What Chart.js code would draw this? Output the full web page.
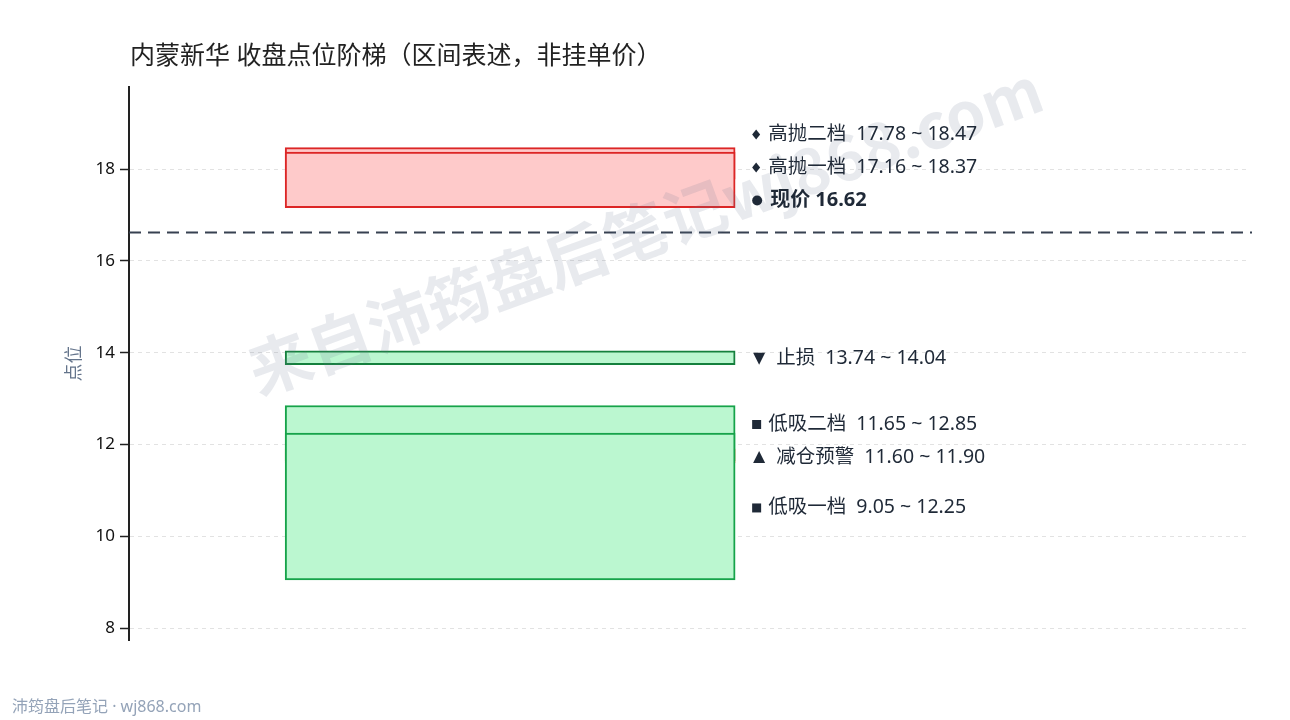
<!DOCTYPE html>
<html>
<head>
<meta charset="utf-8">
<script src="https://cdn.jsdelivr.net/npm/chart.js@4.4.0/dist/chart.umd.min.js"></script>
<style>
html, body { margin: 0; padding: 0; background: #fff; }
#wrap { width: 1290px; height: 720px; }
</style>
</head>
<body>
<div id="wrap"><canvas id="ladder" width="1290" height="720"></canvas></div>
<script>
// zones, top label first
var zoneNames = ['高抛二档', '高抛一档', '止损', '低吸二档', '减仓预警', '低吸一档'];
var zoneLow = [17.78, 17.16, 13.74, 11.65, 11.60, 9.05];
var zoneHigh = [18.47, 18.37, 14.04, 12.85, 11.90, 12.25];
var zoneKind = ['high', 'high', 'stop', 'low', 'warn', 'low'];
var currentPrice = 16.62;
var yTicks = [8, 10, 12, 14, 16, 18];
var yMin = 7.74, yMax = 19.79;
var zoneX = 0.34;

var FONT = '"Noto Sans", "Noto Sans CJK SC", sans-serif';
var CJK = '"Noto Sans CJK SC", "Noto Sans", sans-serif';
var fills = { high: '#fecaca', stop: '#bbf7d0', low: '#bbf7d0', warn: '#fed7aa' };
var edges = { high: '#dc2626', stop: '#15803d', low: '#16a34a', warn: '#ea580c' };
var ink = '#1f2937';

var datasets = zoneNames.map(function (name, i) {
    return {
        label: name,
        data: [{ x: zoneX, y: [zoneLow[i], zoneHigh[i]] }],
        backgroundColor: fills[zoneKind[i]],
        borderColor: edges[zoneKind[i]],
        borderWidth: 2,
        borderSkipped: false,
        barThickness: 450,
        order: -i
    };
});

const drawMarker = (ctx, kind, x, y) => {
    ctx.fillStyle = ink;
    ctx.beginPath();
    if (kind === 'high') {
        ctx.moveTo(x + 4, y - 5); ctx.lineTo(x + 8, y); ctx.lineTo(x + 4, y + 5); ctx.lineTo(x, y);
        ctx.closePath(); ctx.fill();
        return 16;
    }
    if (kind === 'price') {
        ctx.arc(x + 5, y, 5, 0, Math.PI * 2); ctx.fill();
        return 18;
    }
    if (kind === 'stop') {
        ctx.moveTo(x + 1, y - 6); ctx.lineTo(x + 13, y - 6); ctx.lineTo(x + 7, y + 6);
        ctx.closePath(); ctx.fill();
        return 24;
    }
    if (kind === 'warn') {
        ctx.moveTo(x + 1, y + 6); ctx.lineTo(x + 13, y + 6); ctx.lineTo(x + 7, y - 6);
        ctx.closePath(); ctx.fill();
        return 24;
    }
    ctx.rect(x, y - 4, 9, 9); ctx.fill();
    return 16;
};

var ladderPlugin = {
    id: 'ladder',
    afterDatasetsDraw: function (chart) {
        var ctx = chart.ctx, area = chart.chartArea, ys = chart.scales.y;
        // current price line
        var py = ys.getPixelForValue(currentPrice);
        ctx.save();
        ctx.strokeStyle = '#374151';
        ctx.lineWidth = 2;
        ctx.setLineDash([12, 7]);
        ctx.beginPath();
        ctx.moveTo(area.left, py);
        ctx.lineTo(area.right + 2, py);
        ctx.stroke();
        ctx.restore();

        // watermark
        ctx.save();
        ctx.translate(645, 230);
        ctx.rotate(-20 * Math.PI / 180);
        ctx.font = 'bold 63px ' + CJK;
        ctx.fillStyle = 'rgba(100,116,139,0.15)';
        ctx.textAlign = 'center';
        ctx.textBaseline = 'middle';
        ctx.fillText('来自沛筠盘后笔记wj868.com', 0, 0);
        ctx.restore();
    },
    afterDraw: function (chart) {
        var ctx = chart.ctx, area = chart.chartArea, ys = chart.scales.y;
        var bar = chart.getDatasetMeta(0).data[0];
        var mx = bar.x + bar.width / 2 + 17;

        // label anchors, pushed apart from the bottom up
        var items = zoneNames.map(function (name, i) {
            return {
                kind: zoneKind[i],
                text: name + '  ' + zoneLow[i].toFixed(2) + ' ~ ' + zoneHigh[i].toFixed(2),
                py: ys.getPixelForValue((zoneLow[i] + zoneHigh[i]) / 2),
                bold: false
            };
        });
        items.push({ kind: 'price', text: '现价 ' + currentPrice.toFixed(2),
            py: ys.getPixelForValue(currentPrice) - 33, bold: true });
        items.sort(function (a, b) { return b.py - a.py; });
        var prev = Infinity;
        items.forEach(function (it) {
            it.py = Math.min(it.py, prev - 33);
            prev = it.py;
        });

        ctx.save();
        ctx.textBaseline = 'middle';
        items.forEach(function (it) {
            var off = drawMarker(ctx, it.kind, mx, it.py + 1);
            ctx.font = (it.bold ? 'bold 20px ' : '19.5px ') + FONT;
            ctx.fillStyle = ink;
            ctx.fillText(it.text, mx + off, it.py + 1);
        });

        // title and footer
        ctx.font = '25px ' + FONT;
        ctx.fillStyle = '#222';
        ctx.fillText('内蒙新华 收盘点位阶梯（区间表述，非挂单价）', area.left + 1, 57);
        ctx.font = '16px ' + FONT;
        ctx.fillStyle = '#94a3b8';
        ctx.fillText('沛筠盘后笔记 · wj868.com', 12, 707);
        ctx.restore();
    }
};

var chart1 = new Chart(document.getElementById('ladder'), {
    type: 'bar',
    data: { datasets: datasets },
    options: {
        responsive: false,
        animation: false,
        layout: { padding: { left: 0, right: 40, top: 87, bottom: 80 } },
        plugins: { legend: { display: false }, tooltip: { enabled: false } },
        scales: {
            x: { type: 'linear', min: 0, max: 1, display: false, stacked: true, offset: false },
            y: {
                min: yMin,
                max: yMax,
                stacked: false,
                afterBuildTicks: function (s) { s.ticks = yTicks.map(function (v) { return { value: v }; }); },
                afterFit: function (s) { s.width = 129; },
                ticks: { color: '#111', font: { size: 17, family: FONT }, padding: 5 },
                grid: { color: '#e2e2e2', tickColor: '#222', tickLength: 9, tickWidth: 1.5 },
                border: { color: '#222', width: 2, dash: [4, 4] },
                title: { display: true, text: '点位', color: '#64748b',
                    font: { size: 18, family: CJK }, padding: { top: 62, bottom: 0 } }
            }
        }
    },
    plugins: [ladderPlugin]
});
</script>
</body>
</html>
